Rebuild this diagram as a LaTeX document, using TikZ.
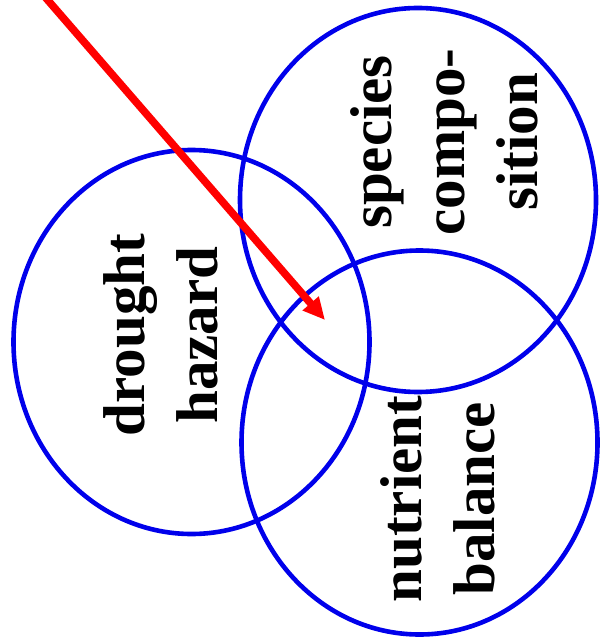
\documentclass[tikz,border=0pt]{standalone}
\usepackage{fontspec}
\setmainfont{Liberation Serif}[BoldFont={Liberation Serif Bold}]
\usetikzlibrary{arrows.meta,shapes.geometric,positioning}
\definecolor{vennblue}{rgb}{0,0,0.92}
\definecolor{arrowred}{rgb}{1,0,0}

\begin{document}
\begin{tikzpicture}[x=0.5pt,y=-0.5pt,
  ring/.style={ellipse,draw=vennblue,line width=2.3pt,minimum width=178pt,minimum height=192pt,inner sep=0pt},
  lbl/.style={rotate=90,align=center,font=\fontsize{29.5}{36.5}\selectfont\bfseries,inner sep=0pt}]
  \useasboundingbox (0,0) rectangle (599,641);
  %Circles
  \node[ring] (drought) at (191.5,342) {};
  \node[ring] (species) at (418,200) {};
  \node[ring] (nutrient) at (419.5,442.5) {};
  %Labels
  \node[lbl] (dlabel) at (160.5,335) {drought\\hazard};
  \node[lbl] (slabel) at (444.5,142) {species\\compo-\\sition};
  \node[lbl] (nlabel) at (437.5,499) {nutrient\\balance};
  %Arrow
  \coordinate (start) at (39,-10);
  \coordinate (tip) at (325,320);
  \draw[arrowred,line width=3.8pt,-{Triangle[length=11pt,width=10pt]}] (start) -- (tip);
\end{tikzpicture}
\end{document}
